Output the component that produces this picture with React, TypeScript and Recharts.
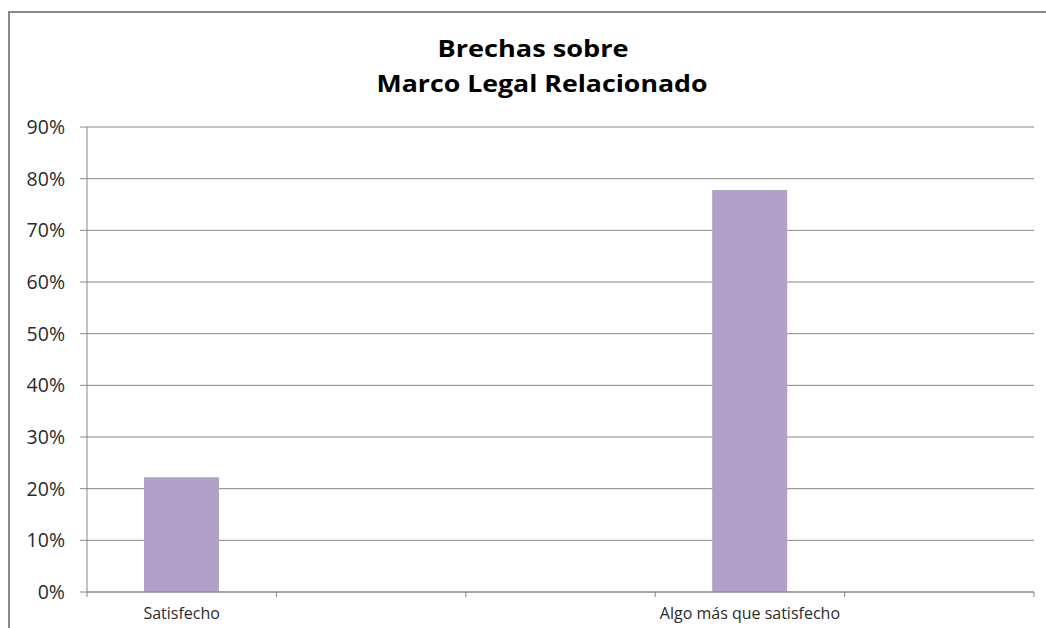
import { BarChart, Bar, XAxis, YAxis, CartesianGrid } from "recharts";

const CATEGORIES = ["Satisfecho", "", "", "Algo más que satisfecho", ""];
const VALUES = [0.222, 0, 0, 0.778, 0];
const Y_TICKS = [0, 0.1, 0.2, 0.3, 0.4, 0.5, 0.6, 0.7, 0.8, 0.9];
const TITLE_LINES = ["Brechas sobre", "Marco Legal Relacionado"];

const data = CATEGORIES.map((name, i) => ({ name, value: VALUES[i] }));

const GRID = "#868686";
const FONT = "'Open Sans', sans-serif";

function CategoryTick(props: any) {
  const { x, y, payload } = props;
  const off = payload.offset ?? 0;
  const last = payload.index === CATEGORIES.length - 1;
  return (
    <g>
      <line x1={x - off} x2={x - off} y1={y} y2={y + 5} stroke={GRID} />
      {last && <line x1={x + off} x2={x + off} y1={y} y2={y + 5} stroke={GRID} />}
      <text x={x} y={y + 27} textAnchor="middle" fontSize={16} fill="#2b2b2b" fontFamily={FONT}>
        {payload.value}
      </text>
    </g>
  );
}

export default function App() {
  return (
    <div
      style={{
        position: "absolute",
        left: 0,
        top: 0,
        width: 1046,
        height: 628,
        overflow: "hidden",
        background: "#fff",
      }}
    >
      <div
        style={{
          position: "absolute",
          left: 8,
          top: 11,
          width: 1100,
          height: 700,
          border: "2px solid #888",
        }}
      />
      <svg
        width={1046}
        height={110}
        style={{ position: "absolute", left: 0, top: 0, fontFamily: FONT }}
      >
        <text x={533} y={57} textAnchor="middle" fontSize={24} fontWeight={700} fill="#000"
          textLength={191} lengthAdjust="spacingAndGlyphs">
          {TITLE_LINES[0]}
        </text>
        <text x={542} y={92} textAnchor="middle" fontSize={24} fontWeight={700} fill="#000"
          textLength={331} lengthAdjust="spacingAndGlyphs">
          {TITLE_LINES[1]}
        </text>
      </svg>
      <div style={{ position: "absolute", left: 0, top: 0 }}>
        <BarChart
          width={1046}
          height={628}
          data={data}
          margin={{ top: 127, right: 12, bottom: 0, left: 0 }}
        >
          <CartesianGrid vertical={false} stroke={GRID} />
          <YAxis
            width={87}
            domain={[0, 0.9]}
            ticks={Y_TICKS}
            tickFormatter={(v: number) => `${Math.round(v * 100)}%`}
            stroke={GRID}
            tickSize={7}
            tickMargin={15}
            tick={{ fontSize: 19.5, fill: "#2b2b2b", fontFamily: FONT }}
          />
          <XAxis
            dataKey="name"
            height={36}
            interval={0}
            tickLine={false}
            tickSize={0}
            tickMargin={0}
            stroke={GRID}
            tick={<CategoryTick />}
          />
          <Bar dataKey="value" fill="#B1A0C7" barSize={75} isAnimationActive={false} />
        </BarChart>
      </div>
    </div>
  );
}
